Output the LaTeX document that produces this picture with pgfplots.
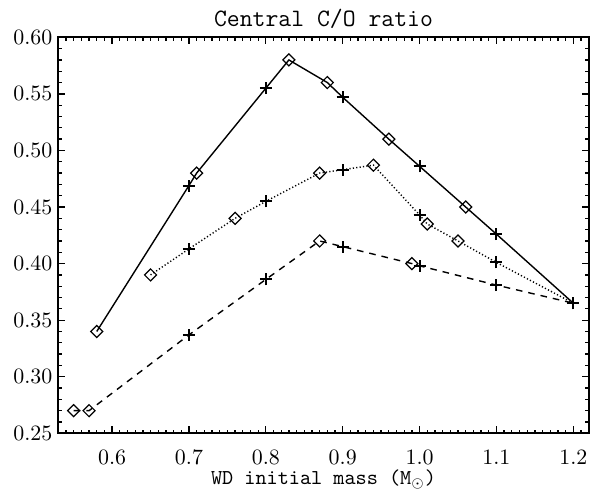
\documentclass[border=0pt]{standalone}
\usepackage{pgfplots}
\pgfplotsset{compat=1.18}
\pgfdeclareplotmark{dmd}{%
  \pgfsetdash{}{0pt}\pgfsetlinewidth{0.6pt}%
  \pgfpathmoveto{\pgfqpoint{0pt}{3pt}}%
  \pgfpathlineto{\pgfqpoint{3pt}{0pt}}%
  \pgfpathlineto{\pgfqpoint{0pt}{-3pt}}%
  \pgfpathlineto{\pgfqpoint{-3pt}{0pt}}%
  \pgfpathclose\pgfusepathqstroke}
\pgfdeclareplotmark{crs}{%
  \pgfsetdash{}{0pt}\pgfsetlinewidth{1pt}%
  \pgfpathmoveto{\pgfqpoint{-3pt}{0pt}}\pgfpathlineto{\pgfqpoint{3pt}{0pt}}%
  \pgfpathmoveto{\pgfqpoint{0pt}{-3pt}}\pgfpathlineto{\pgfqpoint{0pt}{3pt}}%
  \pgfusepathqstroke}
\begin{document}
\begin{tikzpicture}
\path[use as bounding box] (-29.15pt,-27.85pt) rectangle (266.35pt,216.65pt);
\begin{axis}[
  scale only axis, width=265.2pt, height=198pt,
  at={(0pt,0pt)}, anchor=south west,
  xmin=0.53, xmax=1.22, ymin=0.25, ymax=0.60,
  xtick={0.6,0.7,0.8,0.9,1.0,1.1,1.2},
  ytick={0.25,0.30,0.35,0.40,0.45,0.50,0.55,0.60},
  minor xtick={0.53,0.54,0.55,0.56,0.57,0.58,0.59,0.61,0.62,0.63,0.64,0.65,0.66,0.67,0.68,0.69,0.71,0.72,0.73,0.74,0.75,0.76,0.77,0.78,0.79,0.81,0.82,0.83,0.84,0.85,0.86,0.87,0.88,0.89,0.91,0.92,0.93,0.94,0.95,0.96,0.97,0.98,0.99,1.01,1.02,1.03,1.04,1.05,1.06,1.07,1.08,1.09,1.11,1.12,1.13,1.14,1.15,1.16,1.17,1.18,1.19,1.21},
  minor y tick num=4,
  tick align=inside, xtick pos=both, ytick pos=both,
  major tick length=3.5pt, minor tick length=1.8pt,
  axis line style={line width=1pt},
  every tick/.style={black, line width=0.65pt},
  xticklabel style={/pgf/number format/.cd, fixed, fixed zerofill, precision=1, /tikz/.cd, inner sep=1pt, yshift=-7.3pt, font=\fontsize{10.5}{12}\selectfont},
  yticklabel style={/pgf/number format/.cd, fixed, fixed zerofill, precision=2, /tikz/.cd, xshift=0.5pt, font=\fontsize{10.5}{12}\selectfont},
  every axis title shift=0pt,
  title={Central C/O ratio},
  title style={at={(0.5,1)}, anchor=base, yshift=5.3pt, font=\ttfamily\fontsize{12.5}{14}\selectfont},
  xlabel={WD initial mass (M$_\odot$)},
  xlabel style={at={(0.5,0)}, anchor=base, inner sep=0.5pt, yshift=-25.4pt, font=\ttfamily\fontsize{10.6}{12}\selectfont},
  scatter/classes={d={mark=dmd}, c={mark=crs}},
]
% solid
\addplot[black, line width=0.7pt, scatter, scatter src=explicit symbolic, mark options={solid, draw=black}] table[meta=t] {
x y t
0.58 0.340 d
0.70 0.469 c
0.71 0.480 d
0.80 0.555 c
0.83 0.580 d
0.88 0.560 d
0.90 0.547 c
0.96 0.510 d
1.00 0.486 c
1.06 0.450 d
1.10 0.426 c
1.20 0.365 c
};
% dotted
\addplot[black, line width=0.7pt, dash pattern=on 0.6pt off 1.1pt, scatter, scatter src=explicit symbolic, mark options={solid, draw=black}] table[meta=t] {
x y t
0.65 0.390 d
0.70 0.413 c
0.76 0.440 d
0.80 0.455 c
0.87 0.480 d
0.90 0.483 c
0.94 0.487 d
1.00 0.443 c
1.01 0.435 d
1.05 0.420 d
1.10 0.401 c
1.20 0.365 c
};
% dashed
\addplot[black, line width=0.7pt, dash pattern=on 3.3pt off 3pt, scatter, scatter src=explicit symbolic, mark options={solid, draw=black}] table[meta=t] {
x y t
0.55 0.270 d
0.57 0.270 d
0.70 0.337 c
0.80 0.386 c
0.87 0.420 d
0.90 0.415 c
0.99 0.400 d
1.00 0.398 c
1.10 0.381 c
1.20 0.365 c
};
\end{axis}
\end{tikzpicture}
\end{document}
